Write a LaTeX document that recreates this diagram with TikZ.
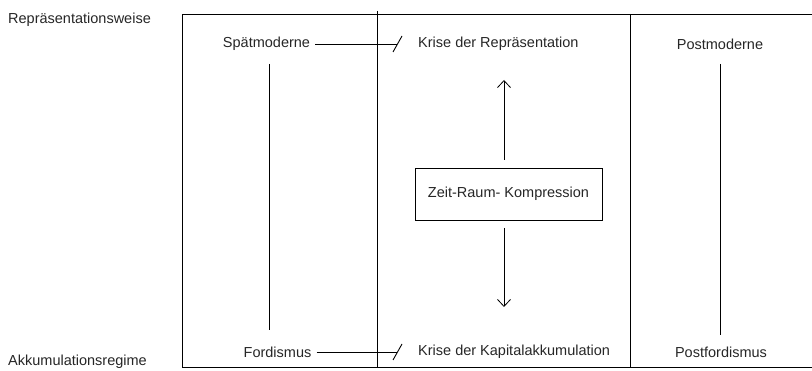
\documentclass[tikz,border=0pt]{standalone}
\usepackage{fontspec}
\setmainfont{Liberation Sans}
\usetikzlibrary{arrows.meta}
\begin{document}
\begin{tikzpicture}[x=1pt,y=-1pt,
  lbl/.style={inner sep=0pt, font=\fontsize{14.5}{17}\selectfont, text=black!85},
  ln/.style={draw=black, line width=0.9pt},
  arr/.style={ln, -{Straight Barb[length=7pt,width=13pt,line width=0.8pt]}},
  kbox/.style={draw=black, line width=0.9pt, minimum width=187pt, minimum height=52pt, inner sep=0pt, font=\fontsize{14.5}{17}\selectfont, text=black!85}]
\useasboundingbox (0,0) rectangle (812,371);
% frame
\draw[ln] (812,14) -- (182,14) -- (182,367) -- (812,367);
\draw[ln] (377,11) -- (377,367);
\draw[ln] (630,14) -- (630,367);
% side labels
\node[lbl, anchor=west] (rep) at (8,20) {Repräsentationsweise};
\node[lbl, anchor=west] (akk) at (8,362) {Akkumulationsregime};
% left column
\node[lbl] (sp) at (266.5,44) {Spätmoderne};
\node[lbl] (fo) at (277.5,352) {Fordismus};
\coordinate (spv1) at (269,64);
\coordinate (spv2) at (269,330);
\draw[ln] (spv1) -- (spv2);
\coordinate (sl1) at (397,44);
\coordinate (sl2) at (397,352);
\draw[ln] ([xshift=5pt]sp.east) -- (sl1);
\draw[ln] ([xshift=5pt]fo.east) -- (sl2);
\coordinate (s1a) at (393,52); \coordinate (s1b) at (402,36);
\coordinate (s2a) at (393,360); \coordinate (s2b) at (402,344);
\draw[ln] (s1a) -- (s1b);
\draw[ln] (s2a) -- (s2b);
% middle column
\node[lbl, anchor=west] (kr) at (418,44) {Krise der Repräsentation};
\node[lbl, anchor=west] (kk) at (418,352) {Krise der Kapitalakkumulation};
\node[kbox] (zr) at (508.5,194) {Zeit-Raum- Kompression};
\coordinate (up0) at (504,160); \coordinate (up1) at (504,80);
\coordinate (dn0) at (504,228); \coordinate (dn1) at (504,307);
\draw[arr] (up0) -- (up1);
\draw[arr] (dn0) -- (dn1);
% right column
\node[lbl] (pm) at (720,44) {Postmoderne};
\node[lbl] (pf) at (721,352) {Postfordismus};
\coordinate (pv1) at (720,64);
\coordinate (pv2) at (720,335);
\draw[ln] (pv1) -- (pv2);
\end{tikzpicture}
\end{document}
